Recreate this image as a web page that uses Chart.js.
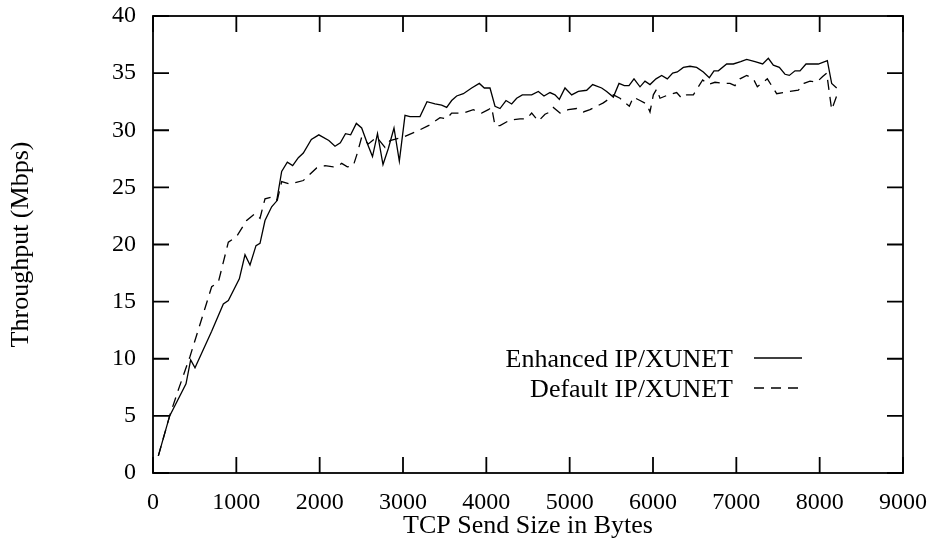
<!DOCTYPE html>
<html><head><meta charset="utf-8">
<script src="https://cdn.jsdelivr.net/npm/chart.js@4.4.1/dist/chart.umd.min.js"></script>
<style>html,body{margin:0;padding:0;background:#fff;}canvas{display:block;}</style>
</head><body>
<canvas id="c" width="933" height="542"></canvas>
<script>
const xTickValues = [0,1000,2000,3000,4000,5000,6000,7000,8000,9000];
const yTickValues = [0,5,10,15,20,25,30,35,40];
const xTitle = 'TCP Send Size in Bytes';
const yTitle = 'Throughput (Mbps)';
const seriesNames = ['Enhanced IP/XUNET','Default IP/XUNET'];

const enhancedSize = [64,200,396,452,504,704,844,904,1036,1104,1164,1236,1284,1344,1424,1484,1544,1612,1676,1744,1804,1900,1990,2110,2184,2248,2310,2372,2440,2504,2574,2634,2694,2760,2824,2892,2956,3024,3084,3204,3288,3384,3464,3524,3584,3644,3724,3824,3916,3976,4044,4104,4164,4236,4304,4364,4432,4544,4624,4692,4764,4824,4876,4944,5024,5104,5204,5276,5384,5444,5524,5592,5656,5712,5772,5844,5904,5964,6036,6104,6172,6236,6292,6364,6444,6524,6604,6676,6732,6784,6884,6964,7052,7124,7224,7316,7384,7444,7516,7584,7636,7704,7764,7836,7904,7984,8092,8144,8204];
const enhancedMbps = [1.5,5.0,7.8,9.9,9.2,12.4,14.8,15.1,17.0,19.1,18.2,19.9,20.1,22.1,23.3,23.8,26.4,27.2,26.9,27.6,28.0,29.2,29.6,29.1,28.6,28.9,29.7,29.6,30.6,30.2,28.8,27.7,29.7,27.0,28.4,30.2,27.3,31.3,31.2,31.2,32.5,32.3,32.2,32.0,32.6,33.0,33.2,33.7,34.1,33.7,33.7,32.1,31.9,32.6,32.3,32.8,33.1,33.1,33.4,33.0,33.3,33.1,32.7,33.7,33.1,33.4,33.5,34.0,33.7,33.4,32.9,34.1,33.9,33.9,34.5,33.8,34.3,34.0,34.5,34.8,34.5,35.0,35.1,35.5,35.6,35.5,35.1,34.6,35.2,35.2,35.8,35.8,36.0,36.2,36.0,35.8,36.3,35.7,35.5,34.9,34.8,35.2,35.2,35.8,35.8,35.8,36.1,34.1,33.7];

const defaultSize = [64,200,300,444,704,784,904,1004,1124,1224,1284,1344,1444,1492,1544,1644,1804,1964,2064,2164,2224,2264,2332,2404,2452,2504,2584,2684,2784,2844,3004,3164,3304,3444,3524,3584,3724,3844,3944,4024,4064,4104,4164,4284,4404,4484,4544,4624,4704,4764,4804,4884,4984,5084,5164,5244,5324,5404,5484,5524,5604,5716,5764,5844,5924,5964,6004,6044,6084,6184,6284,6344,6404,6484,6544,6596,6664,6744,6844,6924,6984,7044,7124,7204,7252,7304,7372,7424,7484,7644,7744,7812,7884,7964,8036,8084,8144,8204];
const defaultMbps = [1.5,5.0,7.2,10.2,16.3,16.7,20.2,20.7,22.1,22.7,22.3,24.0,24.2,23.9,25.5,25.3,25.6,26.7,26.9,26.8,26.9,27.1,26.8,26.9,28.0,29.4,28.8,29.4,28.5,29.1,29.4,29.9,30.4,31.1,31.0,31.5,31.5,31.8,31.5,31.8,32.0,30.4,30.4,30.9,31.0,31.0,31.5,30.8,31.4,31.6,32.0,31.5,31.8,31.9,31.6,31.8,32.1,32.4,32.8,33.1,32.8,32.1,32.9,32.6,32.3,31.6,33.1,33.6,32.8,33.1,33.3,32.8,33.1,33.1,33.8,34.4,34.0,34.2,34.1,34.1,33.9,34.5,34.8,34.5,33.8,34.1,34.5,33.9,33.2,33.4,33.5,34.1,34.3,34.2,34.7,35.0,31.8,33.0];

const FONT = 'Liberation Serif';
const dashPattern = [10,7];

const framePlugin = {
  id: 'frame',
  afterDatasetsDraw(chart) {
    const {ctx, chartArea: a, scales: {x, y}} = chart;
    ctx.save();
    ctx.strokeStyle = '#000';
    ctx.lineWidth = 1.8;
    ctx.strokeRect(a.left, a.top, a.right - a.left, a.bottom - a.top);
    const L = 16;
    ctx.beginPath();
    x.ticks.forEach(t => {
      const p = x.getPixelForValue(t.value);
      ctx.moveTo(p, a.bottom); ctx.lineTo(p, a.bottom - L);
      ctx.moveTo(p, a.top); ctx.lineTo(p, a.top + L);
    });
    y.ticks.forEach(t => {
      const p = y.getPixelForValue(t.value);
      ctx.moveTo(a.left, p); ctx.lineTo(a.left + L, p);
      ctx.moveTo(a.right, p); ctx.lineTo(a.right - L, p);
    });
    ctx.stroke();
    // legend
    ctx.font = '26px "' + FONT + '"';
    ctx.fillStyle = '#000';
    ctx.textAlign = 'right';
    ctx.textBaseline = 'middle';
    const textRight = a.right - 170;
    const lx0 = a.right - 149, lx1 = a.right - 101;
    const rows = [359, 389];
    chart.data.datasets.forEach((ds, i) => {
      const yy = rows[i];
      ctx.fillText(ds.label, textRight, yy + 1);
      ctx.beginPath();
      ctx.lineWidth = 1.3;
      ctx.setLineDash(ds.borderDash || []);
      ctx.moveTo(lx0, yy - 1); ctx.lineTo(lx1, yy - 1);
      ctx.stroke();
      ctx.setLineDash([]);
    });
    ctx.restore();
  }
};

new Chart(document.getElementById('c'), {
  type: 'line',
  data: {
    datasets: [
      {label: seriesNames[0], data: enhancedSize.map((v, i) => ({x: v, y: enhancedMbps[i]})),
       borderColor: '#000', borderWidth: 1.3, pointRadius: 0, tension: 0, fill: false},
      {label: seriesNames[1], data: defaultSize.map((v, i) => ({x: v, y: defaultMbps[i]})),
       borderColor: '#000', borderWidth: 1.3, borderDash: dashPattern, pointRadius: 0, tension: 0, fill: false}
    ]
  },
  options: {
    responsive: false,
    animation: false,
    devicePixelRatio: 1,
    layout: {padding: {left: 0, top: 16, right: 30, bottom: 0}},
    plugins: {legend: {display: false}, tooltip: {enabled: false}},
    scales: {
      x: {
        type: 'linear', min: 0, max: 9000,
        afterBuildTicks: s => { s.ticks = xTickValues.map(v => ({value: v})); },
        afterFit: s => { s.height = 69; s.paddingLeft = 0; s.paddingRight = 0; },
        grid: {display: false, drawTicks: false},
        border: {display: false},
        ticks: {color: '#000', padding: 15, font: {family: FONT, size: 24}, maxRotation: 0, autoSkip: false,
                callback: v => String(v)},
        title: {display: true, text: xTitle, color: '#000', font: {family: FONT, size: 26}, padding: {top: 0, bottom: 0}}
      },
      y: {
        type: 'linear', min: 0, max: 40,
        afterBuildTicks: s => { s.ticks = yTickValues.map(v => ({value: v})); },
        afterFit: s => { s.width = 153; s.paddingTop = 0; s.paddingBottom = 0; },
        grid: {display: false, drawTicks: false},
        border: {display: false},
        ticks: {color: '#000', padding: 17, font: {family: FONT, size: 24}, autoSkip: false,
                callback: v => String(v)},
        title: {display: true, text: yTitle, color: '#000', font: {family: FONT, size: 26}, padding: {top: 6, bottom: 0}}
      }
    }
  },
  plugins: [framePlugin]
});
</script>
</body></html>
